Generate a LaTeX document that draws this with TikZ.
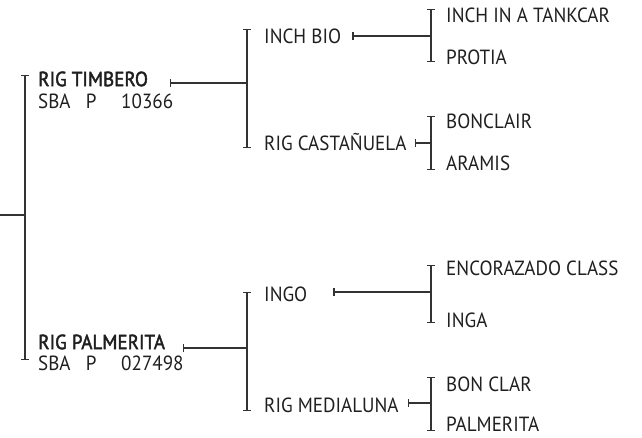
\documentclass[tikz,border=0pt]{standalone}
\usepackage{fontspec}
\setmainfont{PT Sans}[FakeStretch=0.93]
\newfontfamily\mediumfont{PT Sans}[FakeStretch=0.93, FakeBold=2]
\usepackage{xcolor}
\definecolor{linecolor}{rgb}{0.2,0.2,0.2}
\definecolor{namecolor}{rgb}{0.12,0.12,0.12}
\usetikzlibrary{arrows.meta}
\newcommand{\horsefont}{\fontsize{20.5}{22}\selectfont}
\tikzset{
	horse/.style={anchor=west, inner sep=0pt, text height=14.3pt, text depth=0pt, text=namecolor, font=\horsefont},
	sirename/.style={horse, font=\horsefont\mediumfont},
	bracket/.style={linecolor, line width=1.3pt, {Bar[width=8pt]}-{Bar[width=8pt]}},
	link/.style={linecolor, line width=1.3pt, {Bar[width=8pt]}-},
	stub/.style={linecolor, line width=1.3pt}
}

\begin{document}
\begin{tikzpicture}[x=1pt, y=-1pt]
	\useasboundingbox (0,0) rectangle (642,437);
	% first generation
	\coordinate (root) at (0,215);
	\coordinate (g1t) at (25,75);
	\coordinate (g1b) at (25,360);
	\draw [bracket] (g1t) -- (g1b);
	\draw [stub] (root) -- (root -| g1t);
	\node [sirename] (sire) at (38,79) {RIG TIMBERO};
	\node [horse] (sirereg) at (38,101) {SBA\hspace{0.75em}P\hspace{1.2em}10366};
	\node [sirename] (dam) at (38,342) {RIG PALMERITA};
	\node [horse] (damreg) at (38,363) {SBA\hspace{0.75em}P\hspace{1.2em}027498};
	% second generation
	\coordinate (g2at) at (247,29);
	\coordinate (g2ab) at (247,148);
	\coordinate (g2bt) at (247,292);
	\coordinate (g2bb) at (247,411);
	\draw [bracket] (g2at) -- (g2ab);
	\draw [bracket] (g2bt) -- (g2bb);
	\coordinate (sirelink) at ([shift={(22,4)}]sire.east);
	\coordinate (damlink) at ([shift={(18,6)}]dam.east);
	\draw [link] (sirelink) -- (sirelink -| g2at);
	\draw [link] (damlink) -- (damlink -| g2bt);
	\node [horse] (inchbio) at (264,36) {INCH BIO};
	\node [horse] (castanuela) at (264,143) {RIG CASTAÑUELA};
	\node [horse] (ingo) at (264,294) {INGO};
	\node [horse] (medialuna) at (264,405) {RIG MEDIALUNA};
	% third generation
	\coordinate (g3at) at (431,9);
	\coordinate (g3ab) at (431,62);
	\coordinate (g3bt) at (431,116);
	\coordinate (g3bb) at (431,170);
	\coordinate (g3ct) at (431,265);
	\coordinate (g3cb) at (431,323);
	\coordinate (g3dt) at (431,377);
	\coordinate (g3db) at (431,431);
	\foreach \g in {a,b,c,d}
		\draw [bracket] (g3\g t) -- (g3\g b);
	\coordinate (inchbiolink) at ([xshift=11]inchbio.east);
	\coordinate (castanuelalink) at ([xshift=8]castanuela.east);
	\coordinate (ingolink) at ([shift={(26,-2)}]ingo.east);
	\coordinate (medialunalink) at ([shift={(9,-2)}]medialuna.east);
	\draw [link] (inchbiolink) -- (inchbiolink -| g3at);
	\draw [link] (castanuelalink) -- (castanuelalink -| g3bt);
	\draw [link] (ingolink) -- (ingolink -| g3ct);
	\draw [link] (medialunalink) -- (medialunalink -| g3dt);
	\node [horse] (tankcar) at (446,15) {INCH IN A TANKCAR};
	\node [horse] (protia) at (446,57) {PROTIA};
	\node [horse] (bonclair) at (446,121) {BONCLAIR};
	\node [horse] (aramis) at (446,163) {ARAMIS};
	\node [horse] (encorazado) at (446,268) {ENCORAZADO CLASS};
	\node [horse] (inga) at (446,320) {INGA};
	\node [horse] (bonclar) at (446,384) {BON CLAR};
	\node [horse] (palmerita) at (446,424) {PALMERITA};
\end{tikzpicture}
\end{document}
